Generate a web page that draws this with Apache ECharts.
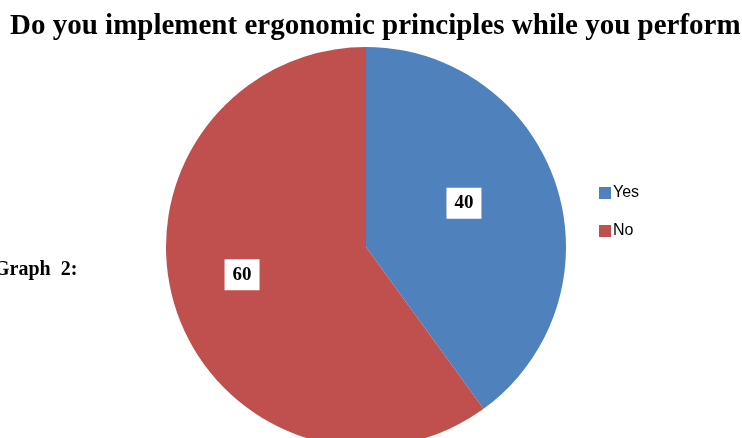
<!DOCTYPE html>
<html>
<head>
<meta charset="utf-8">
<script src="https://cdn.jsdelivr.net/npm/echarts@6/dist/echarts.min.js"></script>
<style>
  html, body { margin: 0; padding: 0; background: #fff; }
  #chart { width: 742px; height: 438px; }
</style>
</head>
<body>
<div id="chart"></div>
<script>
const categories = ['Yes', 'No'];
const values = [40, 60];
const colors = ['#4F81BD', '#C0504D'];

const chart = echarts.init(document.getElementById('chart'));

// nudge the value boxes a little, like the original Excel layout
const labelShift = [[0, -12], [-26, -4]];

const option = {
  animation: false,
  title: [
    {
      text: 'Do you implement ergonomic principles while you perform',
      left: 5,
      top: 7,
      textStyle: {
        fontFamily: 'Liberation Serif',
        fontWeight: 'bold',
        fontSize: 29,
        color: '#000'
      }
    },
    {
      text: 'Graph  2:',
      left: -11,
      top: 255,
      textStyle: {
        fontFamily: 'Liberation Serif',
        fontWeight: 'bold',
        fontSize: 20,
        color: '#000'
      }
    }
  ],
  legend: {
    orient: 'vertical',
    left: 594,
    top: 180,
    itemWidth: 12,
    itemHeight: 12,
    itemGap: 22,
    icon: 'rect',
    data: categories,
    textStyle: {
      fontFamily: 'Liberation Sans',
      fontSize: 16,
      color: '#000',
      padding: [0, 0, 0, -3]
    }
  },
  series: [
    {
      type: 'pie',
      center: [366, 247],
      radius: 200,
      startAngle: 90,
      clockwise: true,
      data: categories.map((c, i) => ({
        name: c,
        value: values[i],
        itemStyle: { color: colors[i] }
      })),
      label: {
        position: 'inside',
        formatter: '{c}',
        backgroundColor: '#fff',
        padding: [7, 8, 5, 8],
        fontFamily: 'Liberation Serif',
        fontWeight: 'bold',
        fontSize: 19,
        color: '#000'
      },
      labelLayout: function (params) {
        const s = labelShift[params.dataIndex];
        return { dx: s[0], dy: s[1] };
      },
      labelLine: { show: false },
      emphasis: { disabled: true }
    }
  ]
};

chart.setOption(option);
</script>
</body>
</html>
